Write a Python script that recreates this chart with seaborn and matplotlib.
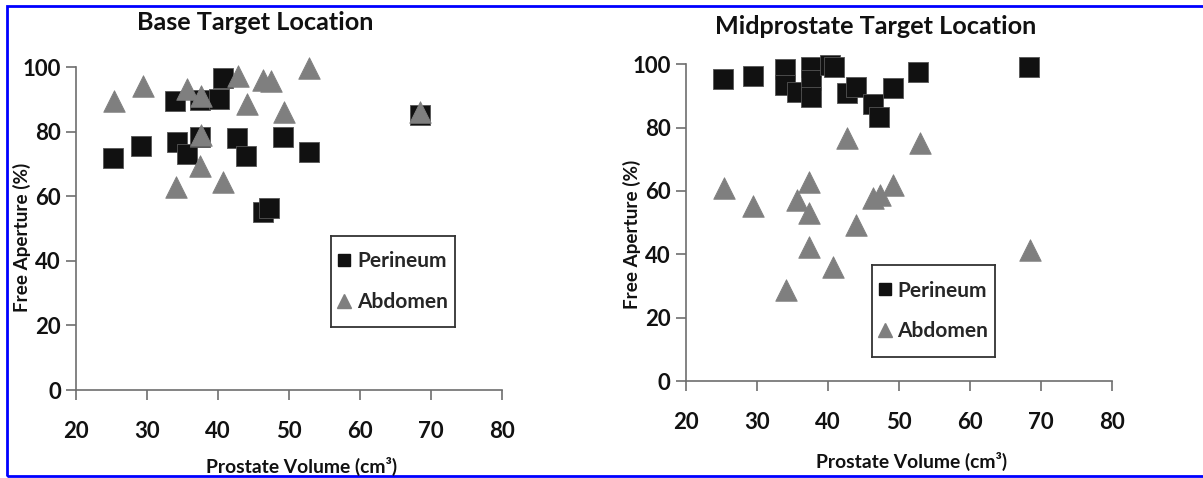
import numpy as np
import pandas as pd
import seaborn as sns
from matplotlib import pyplot as plt
from matplotlib.patches import Rectangle
from matplotlib.lines import Line2D

sns.set_style('white')
plt.rcParams['font.family'] = ['Lato', 'DejaVu Sans']
plt.rcParams['font.weight'] = 'bold'

# Base target location
base_perineum_vol = [25.2, 29.2, 34.0, 34.2, 35.6, 37.5, 37.5, 40.2, 40.7, 42.7, 44.0, 46.4, 47.2, 49.2, 52.8, 68.4]
base_perineum_fa = [71.9, 75.6, 89.6, 76.9, 73.1, 89.8, 78.4, 90.1, 96.7, 77.9, 72.4, 55.0, 56.2, 78.4, 73.6, 85.1]
base_abdomen_vol = [25.3, 29.4, 34.1, 35.6, 37.4, 37.6, 37.6, 40.7, 42.8, 44.1, 46.4, 47.4, 49.3, 52.8, 68.4]
base_abdomen_fa = [89.6, 94.1, 62.7, 93.1, 69.5, 91.1, 78.9, 64.3, 97.2, 88.7, 96.0, 95.8, 86.2, 99.6, 86.2]

# Midprostate target location
mid_perineum_vol = [25.2, 29.4, 34.0, 34.0, 35.6, 37.6, 37.6, 37.6, 40.3, 40.8, 42.7, 44.0, 46.3, 47.2, 49.2, 52.7, 68.3]
mid_perineum_fa = [95.4, 96.3, 98.5, 93.5, 91.4, 99.3, 95.1, 89.8, 99.8, 99.3, 90.8, 92.7, 87.5, 83.5, 92.4, 97.5, 99.3]
mid_abdomen_vol = [25.3, 29.4, 34.1, 35.6, 37.4, 37.4, 37.4, 40.7, 42.7, 44.0, 46.4, 47.4, 49.2, 52.9, 68.4]
mid_abdomen_fa = [60.8, 55.1, 28.7, 57.2, 62.9, 52.9, 42.4, 36.1, 76.6, 49.3, 57.7, 58.7, 61.9, 75.1, 41.4]

titles = ['Base Target Location', 'Midprostate Target Location']
x_ticks = [20, 30, 40, 50, 60, 70, 80]
y_ticks = [0, 20, 40, 60, 80, 100]
colors = {'Perineum': '#111111', 'Abdomen': '#7f7f7f'}
markers = {'Perineum': 's', 'Abdomen': '^'}


def make_df(p_vol, p_fa, a_vol, a_fa):
    return pd.concat([
        pd.DataFrame({'vol': p_vol, 'fa': p_fa, 'site': 'Perineum'}),
        pd.DataFrame({'vol': a_vol, 'fa': a_fa, 'site': 'Abdomen'}),
    ], ignore_index=True)


frames = [make_df(base_perineum_vol, base_perineum_fa, base_abdomen_vol, base_abdomen_fa),
          make_df(mid_perineum_vol, mid_perineum_fa, mid_abdomen_vol, mid_abdomen_fa)]

fig = plt.figure(figsize=(12.03, 4.78), dpi=100)
ax_rects = [[0.0632, 0.1841, 0.3541, 0.6757], [0.5702, 0.2029, 0.3541, 0.6626]]
title_x = [255, 876]
title_y = [23, 27]
xlabel_pos = [(302, 466), (912, 461)]
ylabel_pos = [(22, 237), (632, 234)]
legend_box = [(331, 236, 455, 327), (872, 265, 995, 357)]

W, H = 1203, 478
for i, df in enumerate(frames):
    ax = fig.add_axes(ax_rects[i])
    for site in ['Perineum', 'Abdomen']:
        sub = df[df['site'] == site]
        sns.scatterplot(data=sub, x='vol', y='fa', ax=ax, color=colors[site],
                        marker=markers[site], s=210 if site == 'Perineum' else 240,
                        edgecolor='#555555' if site == 'Perineum' else colors[site],
                        linewidth=0.6, legend=False, zorder=3, clip_on=False)
    ax.set_xlim(20, 80)
    ax.set_ylim(0, 100)
    ax.set_xticks(x_ticks)
    ax.set_yticks(y_ticks)
    ax.set_xlabel('')
    ax.set_ylabel('')
    for s in ['top', 'right']:
        ax.spines[s].set_visible(False)
    for s in ['left', 'bottom']:
        ax.spines[s].set_color('#6e6e6e')
        ax.spines[s].set_linewidth(1.2)
    ax.tick_params(axis='x', direction='out', length=7, width=1.2, color='#6e6e6e',
                   pad=15, labelsize=16, bottom=True)
    ax.tick_params(axis='y', direction='out', length=7, width=1.2, color='#6e6e6e',
                   pad=4, labelsize=16, left=True)
    for lab in ax.get_xticklabels() + ax.get_yticklabels():
        lab.set_fontweight('bold')
        lab.set_color('#111111')

    fig.text(title_x[i] / W, 1 - title_y[i] / H, titles[i], ha='center', va='center',
             fontsize=18.2, fontweight='bold', color='#111111')
    fig.text(xlabel_pos[i][0] / W, 1 - xlabel_pos[i][1] / H, 'Prostate Volume (cm³)',
             ha='center', va='center', fontsize=13.9, fontweight='bold', color='#111111')
    fig.text(ylabel_pos[i][0] / W, 1 - ylabel_pos[i][1] / H, 'Free Aperture (%)',
             ha='center', va='center', rotation=90, fontsize=13.6, fontweight='bold',
             color='#111111')

    # legend box
    x0, y0, x1, y1 = legend_box[i]
    lax = fig.add_axes([x0 / W, 1 - y1 / H, (x1 - x0) / W, (y1 - y0) / H])
    lax.set_xticks([])
    lax.set_yticks([])
    for s in lax.spines.values():
        s.set_color('#333333')
        s.set_linewidth(1.3)
    handles = [Line2D([], [], linestyle='', marker='s', markersize=9, color=colors['Perineum']),
               Line2D([], [], linestyle='', marker='^', markersize=10, color=colors['Abdomen'])]
    lax.legend(handles, ['Perineum', 'Abdomen'], loc='center', frameon=False,
               prop={'size': 15, 'weight': 'bold'}, handlelength=0.6, handletextpad=0.3,
               labelspacing=1.0, borderpad=0)

fig.patches.append(Rectangle((7 / W, 2 / H), 1.2, 1 - 8 / H, transform=fig.transFigure,
                             fill=False, edgecolor='#0000ff', linewidth=2, clip_on=False))

fig.savefig('out.png', dpi=100)
